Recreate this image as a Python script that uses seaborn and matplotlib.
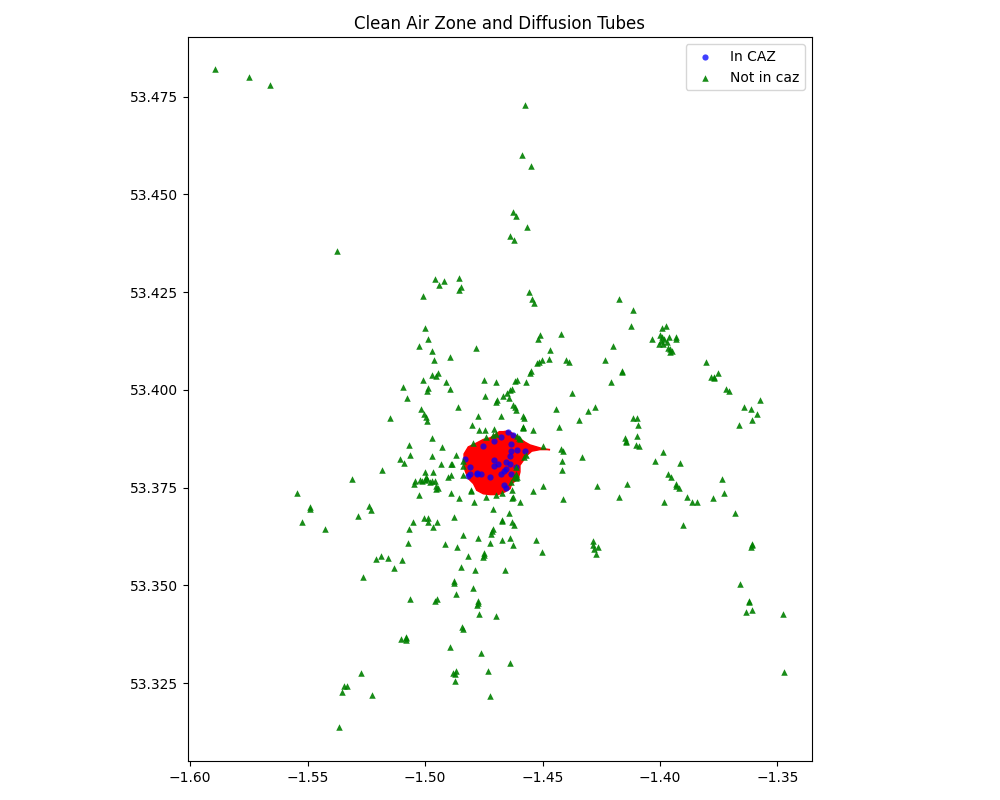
import matplotlib
matplotlib.use("Agg")
import matplotlib.pyplot as plt
import seaborn as sns

# clean air zone boundary (lon, lat)
caz_lon = [-1.4752, -1.4723, -1.4702, -1.4684, -1.4667, -1.4646, -1.4617, -1.4596, -1.4574, -1.4553, -1.4525, -1.4497,
           -1.4468, -1.4511, -1.4546, -1.4567, -1.4582, -1.4596, -1.4596, -1.4603, -1.4631, -1.4638, -1.4660, -1.4688,
           -1.4723, -1.4752, -1.4780, -1.4794, -1.4816, -1.4830, -1.4834, -1.4834, -1.4816, -1.4787]
caz_lat = [53.3873, 53.3877, 53.3885, 53.3893, 53.3893, 53.3895, 53.3885, 53.3875, 53.3866, 53.3859, 53.3854, 53.3849,
           53.3847, 53.3847, 53.3843, 53.3832, 53.3819, 53.3807, 53.3790, 53.3773, 53.3760, 53.3747, 53.3739, 53.3732,
           53.3732, 53.3734, 53.3743, 53.3760, 53.3773, 53.3794, 53.3815, 53.3836, 53.3854, 53.3862]

# tubes inside the zone
in_lon = [-1.4646, -1.4624, -1.4675, -1.4705, -1.4633, -1.4752, -1.4633, -1.4607, -1.4573, -1.4638, -1.4829, -1.4705,
          -1.4654, -1.4688, -1.4637, -1.4705, -1.4807, -1.4611, -1.4654, -1.4663, -1.4807, -1.4816, -1.4777, -1.4760,
          -1.4722, -1.4675, -1.4633, -1.4663, -1.4657, -1.4779]
in_lat = [53.3892, 53.3885, 53.3879, 53.3869, 53.3861, 53.3856, 53.3843, 53.3846, 53.3843, 53.3831, 53.3823, 53.3820,
          53.3815, 53.3810, 53.3810, 53.3805, 53.3802, 53.3802, 53.3797, 53.3792, 53.3785, 53.3779, 53.3785, 53.3785,
          53.3778, 53.3785, 53.3785, 53.3756, 53.3749, 53.3787]

# tubes outside the zone
out_lon = [-1.5894, -1.5749, -1.5660, -1.4574, -1.4587, -1.4549, -1.4626, -1.4613, -1.4566, -1.4638, -1.4621, -1.5374,
           -1.4956, -1.4918, -1.4939, -1.4854, -1.4846, -1.4854, -1.5007, -1.4556, -1.4543, -1.4535, -1.4999, -1.4986,
           -1.5024, -1.4969, -1.4960, -1.4892, -1.4782, -1.4420, -1.4509, -1.4518, -1.4467, -1.4471, -1.4501, -1.4514,
           -1.4522, -1.4399, -1.4386, -1.4548, -1.4554, -1.4943, -1.4969, -1.4952, -1.5007, -1.4909, -1.4748, -1.4697,
           -1.4617, -1.4609, -1.4569, -1.5092, -1.4986, -1.4993, -1.4892, -1.4628, -1.4638, -1.4652, -1.4667, -1.4373,
           -1.5075, -1.4743, -1.4692, -1.4697, -1.4641, -1.4624, -1.4618, -1.4613, -1.5016, -1.5004, -1.4997, -1.4990,
           -1.4858, -1.5148, -1.4776, -1.4675, -1.4582, -1.4577, -1.4441, -1.4800, -1.4582, -1.4429, -1.4343,
           -1.4207, -1.4275, -1.4305, -1.4582, -1.4582, -1.4539, -1.4497, -1.4420, -1.4412, -1.4416, -1.4416, -1.4331,
           -1.4267, -1.4497, -1.4539, -1.4412, -1.4176, -1.4596, -1.4526, -1.4501, -1.4284, -1.4284, -1.4263, -1.4280,
           -1.4271, -1.4577, -1.4570, -1.4596,
           -1.4173, -1.4114, -1.4122, -1.3990, -1.3973, -1.4033, -1.3999, -1.3960, -1.3931, -1.3931, -1.3990, -1.3982,
           -1.3995, -1.4003, -1.3986, -1.3969, -1.3965, -1.3956, -1.3948, -1.3956, -1.4199, -1.4233, -1.4160, -1.4160,
           -1.3803, -1.3752, -1.3782, -1.3769, -1.3769, -1.3718, -1.3705, -1.3573, -1.3641, -1.3612, -1.3586, -1.3607,
           -1.3663, -1.4114, -1.4097, -1.4092, -1.4097, -1.4148, -1.4143, -1.4143, -1.4101, -1.4088, -1.3986, -1.4020,
           -1.3914, -1.3965, -1.3952, -1.3931, -1.3931, -1.3918, -1.3735, -1.4139, -1.3982, -1.3884, -1.3863, -1.3841,
           -1.3773, -1.3726, -1.3680, -1.3901,
           -1.3607, -1.3612, -1.3607, -1.3658, -1.3620, -1.3620, -1.3633, -1.3607, -1.3475, -1.3471,
           -1.5543, -1.5488, -1.5488, -1.5522, -1.5428, -1.5309, -1.5182, -1.5237, -1.5229, -1.5284, -1.4969, -1.4926,
           -1.5067, -1.5063, -1.5105, -1.5088, -1.4969, -1.4867, -1.4931, -1.4888, -1.4884, -1.4999, -1.4965, -1.4888,
           -1.4901, -1.5041, -1.5046, -1.5020, -1.5011, -1.4999, -1.4994, -1.4990, -1.4969, -1.4977, -1.4956, -1.4952,
           -1.4943, -1.4952, -1.4888, -1.5024, -1.4854, -1.4875, -1.5003, -1.4986, -1.4986, -1.5050, -1.4948, -1.5067,
           -1.4965, -1.5071, -1.4914, -1.4863, -1.5186, -1.5207, -1.5156, -1.5097, -1.5131, -1.5263,
           -1.5063, -1.5101, -1.5083, -1.5080, -1.5080, -1.5271, -1.5343, -1.5331, -1.5352, -1.5224, -1.5365,
           -1.4803, -1.4790, -1.4739, -1.4697, -1.4671, -1.4624, -1.4709, -1.4641, -1.4671, -1.4671, -1.4628, -1.4620,
           -1.4709, -1.4714, -1.4718, -1.4837, -1.4773, -1.4671, -1.4637, -1.4722, -1.4624, -1.4816, -1.4748, -1.4748,
           -1.4752, -1.4846, -1.4786, -1.4660, -1.4875, -1.4875, -1.4794, -1.4867, -1.4948, -1.4956, -1.4773, -1.4773,
           -1.4777, -1.4769, -1.4697, -1.4841, -1.4837, -1.4892, -1.4760, -1.4637, -1.4867, -1.4880, -1.4871, -1.4731,
           -1.4871, -1.4722,
           -1.4769, -1.4745, -1.4705, -1.4709, -1.4698, -1.4740, -1.4607, -1.4599, -1.4794, -1.4837, -1.4837, -1.4837,
           -1.4613, -1.4613, -1.4621, -1.4607, -1.4613, -1.4634, -1.4631, -1.4803, -1.4631]
out_lat = [53.4821, 53.4800, 53.4780, 53.4729, 53.4601, 53.4573, 53.4455, 53.4445, 53.4417, 53.4394, 53.4383, 53.4355,
           53.4284, 53.4279, 53.4269, 53.4287, 53.4264, 53.4256, 53.4241, 53.4251, 53.4233, 53.4221, 53.4159, 53.4131,
           53.4113, 53.4100, 53.4075, 53.4083, 53.4108, 53.4144, 53.4139, 53.4131, 53.4103, 53.4080, 53.4077, 53.4072,
           53.4068, 53.4075, 53.4072, 53.4049, 53.4043, 53.4042, 53.4037, 53.4036, 53.4024, 53.4021, 53.4024, 53.4019,
           53.4022, 53.4024, 53.4019, 53.4006, 53.4004, 53.3996, 53.4003, 53.4003, 53.3999, 53.3992, 53.3985, 53.3993,
           53.3978, 53.3983, 53.3975, 53.3968, 53.3978, 53.3962, 53.3955, 53.3948, 53.3950, 53.3939, 53.3930, 53.3921,
           53.3955, 53.3929, 53.3934, 53.3934, 53.3934, 53.3928, 53.3950, 53.3911, 53.3906, 53.3906, 53.3922,
           53.4019, 53.3957, 53.3947, 53.3905, 53.3902, 53.3896, 53.3855, 53.3848, 53.3844, 53.3819, 53.3796, 53.3827,
           53.3753, 53.3755, 53.3740, 53.3720, 53.3727, 53.3714, 53.3617, 53.3584, 53.3612, 53.3602, 53.3599, 53.3592,
           53.3579, 53.3828, 53.3832, 53.3875,
           53.4233, 53.4205, 53.4162, 53.4159, 53.4162, 53.4129, 53.4139, 53.4136, 53.4134, 53.4131, 53.4134, 53.4129,
           53.4126, 53.4118, 53.4118, 53.4123, 53.4108, 53.4105, 53.4100, 53.4098, 53.4111, 53.4075, 53.4047, 53.4045,
           53.4072, 53.4044, 53.4034, 53.4031, 53.4033, 53.4003, 53.3998, 53.3975, 53.3955, 53.3950, 53.3939, 53.3924,
           53.3909, 53.3927, 53.3927, 53.3909, 53.3883, 53.3876, 53.3870, 53.3866, 53.3860, 53.3855, 53.3840, 53.3817,
           53.3814, 53.3784, 53.3778, 53.3760, 53.3755, 53.3750, 53.3771, 53.3760, 53.3712, 53.3725, 53.3712, 53.3712,
           53.3722, 53.3735, 53.3684, 53.3653,
           53.3602, 53.3597, 53.3606, 53.3502, 53.3461, 53.3456, 53.3431, 53.3436, 53.3426, 53.3277,
           53.3735, 53.3699, 53.3696, 53.3663, 53.3645, 53.3771, 53.3796, 53.3702, 53.3692, 53.3676, 53.3878, 53.3853,
           53.3860, 53.3832, 53.3824, 53.3814, 53.3830, 53.3832, 53.3809, 53.3809, 53.3809, 53.3791, 53.3791, 53.3781,
           53.3778, 53.3768, 53.3760, 53.3770, 53.3768, 53.3770, 53.3778, 53.3773, 53.3768, 53.3763, 53.3766, 53.3755,
           53.3750, 53.3745, 53.3737, 53.3732, 53.3722, 53.3674, 53.3671, 53.3671, 53.3663, 53.3663, 53.3661, 53.3645,
           53.3648, 53.3607, 53.3605, 53.3597, 53.3576, 53.3566, 53.3571, 53.3564, 53.3543, 53.3520,
           53.3464, 53.3362, 53.3365, 53.3368, 53.3359, 53.3275, 53.3242, 53.3242, 53.3226, 53.3219, 53.3137,
           53.3740, 53.3712, 53.3727, 53.3730, 53.3735, 53.3727, 53.3694, 53.3686, 53.3668, 53.3665, 53.3663, 53.3653,
           53.3645, 53.3638, 53.3630, 53.3628, 53.3620, 53.3617, 53.3620, 53.3607, 53.3602, 53.3576, 53.3582, 53.3577,
           53.3572, 53.3546, 53.3538, 53.3538, 53.3510, 53.3506, 53.3492, 53.3477, 53.3464, 53.3459, 53.3459, 53.3454,
           53.3449, 53.3426, 53.3421, 53.3392, 53.3387, 53.3341, 53.3326, 53.3300, 53.3280, 53.3275, 53.3272, 53.3280,
           53.3254, 53.3216,
           53.3896, 53.3896, 53.3900, 53.3885, 53.3887, 53.3879, 53.3883, 53.3876, 53.3864, 53.3819, 53.3805, 53.3781,
           53.3802, 53.3785, 53.3777, 53.3777, 53.3774, 53.3764, 53.3743, 53.3744, 53.3723]

fig = plt.figure(figsize=(10, 8))
ax = fig.add_axes([0.188, 0.049, 0.624, 0.9045])

# boundary first, then the two sets of tubes on top
ax.fill(caz_lon, caz_lat, color="red", linewidth=1)
sns.scatterplot(x=in_lon, y=in_lat, ax=ax, color="blue", marker="o", s=20, alpha=0.75,
                linewidth=0, label="In CAZ")
sns.scatterplot(x=out_lon, y=out_lat, ax=ax, color="green", marker="^", s=22, alpha=0.9,
                linewidth=0, label="Not in caz")

ax.set_xlim(-1.6009, -1.3353)
ax.set_ylim(53.3051, 53.4902)
ax.set_title("Clean Air Zone and Diffusion Tubes")
ax.legend(loc="upper right")

fig.savefig("out.png", dpi=100)
